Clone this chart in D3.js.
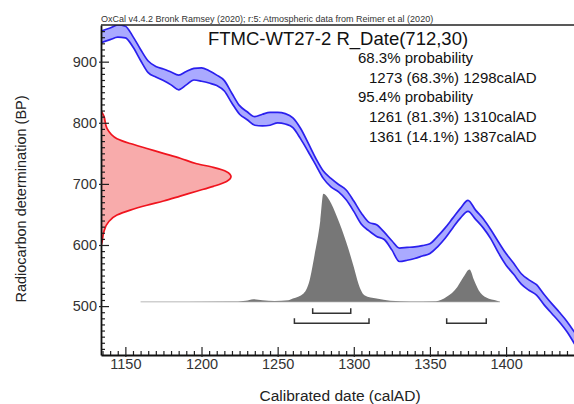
<!DOCTYPE html>
<html><head><meta charset="utf-8">
<script src="https://cdn.jsdelivr.net/npm/d3@7"></script>
<style>body{margin:0;background:#fff} svg{display:block;font-family:"Liberation Sans",Arial,sans-serif}</style>
</head><body><svg id="c" width="574" height="404"></svg>
<script>
// ---- data ----
const calYears = [1134,1140,1145,1150,1155,1160,1165,1170,1175,1180,1185,1190,1195,1200,1205,1210,1215,1220,1225,1230,1235,1240,1245,1250,1255,1260,1265,1270,1275,1280,1285,1290,1295,1300,1305,1310,1315,1320,1325,1330,1335,1340,1345,1350,1355,1360,1365,1370,1375,1380,1385,1390,1395,1400,1405,1410,1415,1420,1425,1430,1435,1440,1445];
const curveUpper = [950,955,960,958,941,920,901,892,888,883,878,884,889,890,885,878,869,848,828,818,810,814,817,817,815,808,791,767,742,721,709,699,690,672,652,637,633,621,607,595,596,597,599,602,614,628,644,660,673,657,643,625,605,586,570,553,543,535,519,504,490,475,457];
const curveLower = [931,936,940,939,924,902,882,875,869,862,854,862,870,868,865,861,852,832,814,805,796,795,796,800,798,792,774,753,731,709,695,687,674,655,634,623,614,609,592,573,575,578,582,586,597,611,628,644,655,642,628,610,587,567,552,536,526,518,502,488,474,458,438];

const rdateBP   = [598,605,621,638,649,657,665,672,680,688,696,704,712,720,727,733,742,750,758,766,774,791,812,820];
const rdateProb = [0,0.008,0.021,0.059,0.123,0.225,0.353,0.481,0.609,0.736,0.864,0.966,1,0.966,0.864,0.736,0.609,0.48,0.353,0.225,0.123,0.046,0.02,0];

const distYears = [1160,1219,1229,1234,1240,1248,1257,1260,1267,1271,1274,1278,1280,1284,1289,1295,1300,1303,1307,1315,1324,1337,1354,1361,1368,1372,1376,1379,1382,1387,1394,1396];
const distProb  = [0,0.002,0.01,0.025,0.015,0.008,0.015,0.03,0.078,0.2,0.415,0.75,1.0,0.94,0.785,0.554,0.323,0.17,0.062,0.03,0.01,0.003,0.005,0.046,0.138,0.23,0.30,0.2,0.108,0.04,0.01,0];

const range68 = [[1273,1298]];
const range95 = [[1261,1310],[1361,1387]];

const xTickValues = [1150,1200,1250,1300,1350,1400];
const yTickValues = [500,600,700,800,900];

const headerText = "OxCal v4.4.2 Bronk Ramsey (2020); r:5: Atmospheric data from Reimer et al (2020)";
const titleText = "FTMC-WT27-2 R_Date(712,30)";
const summaryLines = ["68.3% probability","1273 (68.3%) 1298calAD","95.4% probability","1261 (81.3%) 1310calAD","1361 (14.1%) 1387calAD"];
const xLabel = "Calibrated date (calAD)";
const yLabel = "Radiocarbon determination (BP)";
const distBaseBP = 507;

// ---- chart ----
const svg = d3.select("#c");
const L = 101, R = 574.6, T = 25, B = 355;
const x = d3.scaleLinear().domain([1134, 1445]).range([L, R]);
const y = d3.scaleLinear().domain([420, 960]).range([B, T]);
const rw = d3.scaleLinear().domain([0, 1]).range([L, 231]);
const base = y(distBaseBP);
const hp = d3.scaleLinear().domain([0, 1]).range([base, base - 108]);

svg.append("clipPath").attr("id","clip").append("rect")
  .attr("x", L).attr("y", T).attr("width", R - L).attr("height", B - T);
const plot = svg.append("g").attr("clip-path","url(#clip)");

// calibration curve
const cal = calYears.map((yr,i)=>({yr, u:curveUpper[i], l:curveLower[i]}));
plot.append("path").datum(cal)
  .attr("d", d3.area().x(d=>x(d.yr)).y0(d=>y(d.l)).y1(d=>y(d.u)).curve(d3.curveMonotoneX))
  .attr("fill","#aaaaff");
["u","l"].forEach(k=>{
  plot.append("path").datum(cal)
    .attr("d", d3.line().x(d=>x(d.yr)).y(d=>y(d[k])).curve(d3.curveMonotoneX))
    .attr("fill","none").attr("stroke","#2a1fee").attr("stroke-width",1.7);
});

// radiocarbon date distribution
const rd = rdateBP.map((bp,i)=>({bp, p:rdateProb[i]}));
plot.append("path").datum(rd)
  .attr("d", d3.area().y(d=>y(d.bp)).x0(L).x1(d=>rw(d.p)).curve(d3.curveMonotoneY))
  .attr("fill","#f8abab");
plot.append("path").datum(rd)
  .attr("d", d3.line().y(d=>y(d.bp)).x(d=>rw(d.p)).curve(d3.curveMonotoneY))
  .attr("fill","none").attr("stroke","#f0141e").attr("stroke-width",1.7);

// calibrated distribution
plot.append("line").attr("x1", x(distYears[0])).attr("x2", x(distYears[distYears.length-1]))
  .attr("y1", base).attr("y2", base).attr("stroke","#cfcfcf").attr("stroke-width",1.5);
const dd = distYears.map((yr,i)=>({yr, p:distProb[i]}));
plot.append("path").datum(dd)
  .attr("d", d3.area().x(d=>x(d.yr)).y0(base).y1(d=>hp(d.p)).curve(d3.curveMonotoneX))
  .attr("fill","#777777");

// range brackets
function bracket(ranges, yb){
  ranges.forEach(r=>{
    svg.append("path")
      .attr("d", `M${x(r[0])},${yb-5}V${yb}H${x(r[1])}V${yb-5}`)
      .attr("fill","none").attr("stroke","#333").attr("stroke-width",1.5);
  });
}
bracket(range68, base + 11.5);
bracket(range95, base + 21.5);

// axes
const yMinor = d3.range(430, 960, 10).filter(v=>v%100!==0);
const xMinor = d3.range(1135, 1446, 5).filter(v=>v%50!==0);

const gy = svg.append("g").attr("transform",`translate(${L},0)`);
gy.call(d3.axisLeft(y).tickValues(yMinor).tickSize(-4).tickFormat(""));
gy.call(g=>g.select(".domain").remove());
const gy2 = svg.append("g").attr("transform",`translate(${L},0)`);
gy2.call(d3.axisLeft(y).tickValues(yTickValues).tickSizeInner(-8).tickSizeOuter(0).tickPadding(4));
gy2.selectAll(".tick line").attr("x1",-2);
gy2.selectAll(".tick text").attr("font-size",14.5).attr("fill","#333").attr("font-family","Liberation Sans, Arial, sans-serif");

const gx = svg.append("g").attr("transform",`translate(0,${B})`);
gx.call(d3.axisBottom(x).tickValues(xMinor).tickSize(-4).tickFormat(""));
gx.call(g=>g.select(".domain").remove());
const gx2 = svg.append("g").attr("transform",`translate(0,${B})`);
gx2.call(d3.axisBottom(x).tickValues(xTickValues).tickSizeInner(-8).tickSizeOuter(0).tickPadding(4).tickFormat(d3.format("d")));
gx2.selectAll(".tick line").attr("y1",2);
gx2.selectAll(".tick text").attr("font-size",14.5).attr("fill","#333").attr("dy","0.71em").attr("y",4).attr("font-family","Liberation Sans, Arial, sans-serif");
svg.selectAll(".domain").attr("stroke","#111").attr("stroke-width",1.8);
svg.selectAll(".tick line").attr("stroke","#222").attr("stroke-width",1.2);

// top border
svg.append("line").attr("x1",L).attr("x2",574).attr("y1",T).attr("y2",T).attr("stroke","#222").attr("stroke-width",1.3);

// texts
svg.append("text").attr("x",L).attr("y",22).attr("font-size",9).attr("fill","#333").text(headerText);
svg.append("text").attr("x",208).attr("y",45).attr("font-size",18.5).attr("fill","#111").text(titleText);
summaryLines.forEach((t,i)=>{
  const indent = /^\d{4}/.test(t) ? 11 : 0;
  svg.append("text").attr("x",358+indent).attr("y",63 + i*19.7).attr("font-size",15).attr("fill","#111").text(t);
});
svg.append("text").attr("x",340).attr("y",401).attr("text-anchor","middle").attr("font-size",15.5).attr("fill","#222").text(xLabel);
svg.append("text").attr("transform","translate(26,199) rotate(-90)").attr("text-anchor","middle").attr("font-size",14.5).attr("fill","#222").text(yLabel);
</script></body></html>
